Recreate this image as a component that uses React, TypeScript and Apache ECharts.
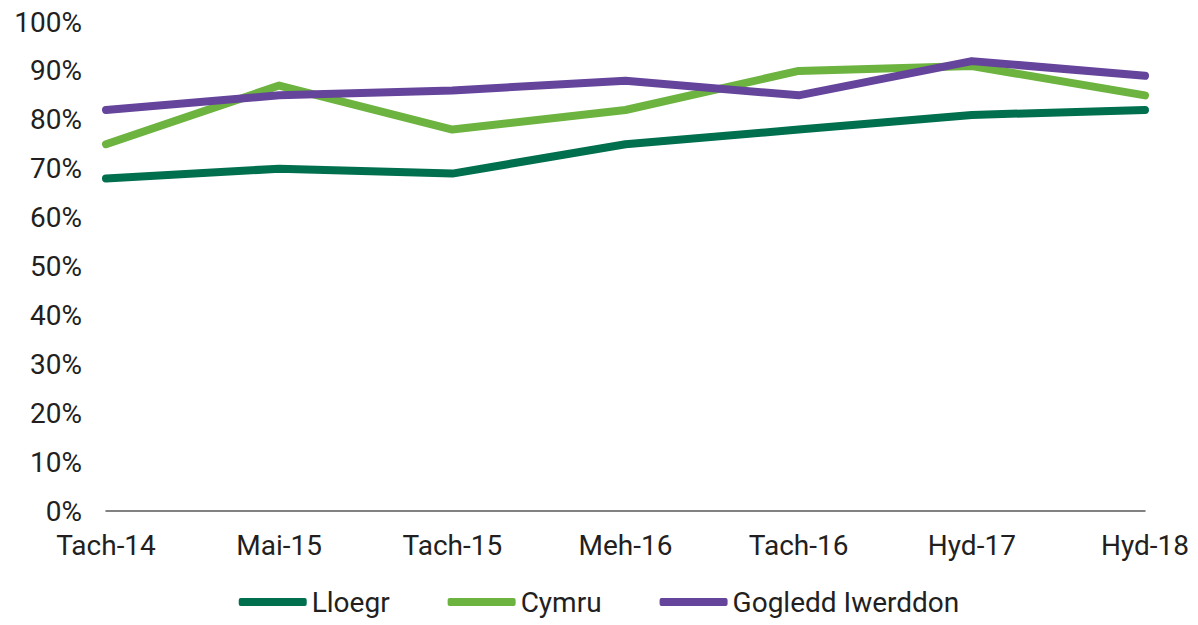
import React, { useEffect, useRef } from "react";
import * as echarts from "echarts";

const categories = ["Tach-14", "Mai-15", "Tach-15", "Meh-16", "Tach-16", "Hyd-17", "Hyd-18"];
const lloegr = [68, 70, 69, 75, 78, 81, 82];
const cymru = [75, 87, 78, 82, 90, 91, 85];
const gogleddIwerddon = [82, 85, 86, 88, 85, 92, 89];

const FONT = "Roboto";
const TEXT = "#231f20";

export default function App() {
  const ref = useRef<HTMLDivElement>(null);
  useEffect(() => {
    const chart = echarts.init(ref.current!, null, { renderer: "svg" });
    const mk = (name: string, data: number[], color: string) => ({
      name,
      type: "line",
      data,
      symbol: "none",
      lineStyle: { width: 8, color, cap: "round", join: "round" },
      itemStyle: { color },
    });
    chart.setOption({
      animation: false,
      grid: { left: 106, right: 53, top: 22, bottom: 114 },
      legend: {
        bottom: 4,
        left: "center",
        itemWidth: 68,
        itemHeight: 8,
        itemGap: 58,
        icon: "roundRect",
        textStyle: { fontFamily: FONT, fontSize: 28, color: TEXT },
        data: ["Lloegr", "Cymru", "Gogledd Iwerddon"],
      },
      xAxis: {
        type: "category",
        data: categories,
        boundaryGap: false,
        axisLine: { show: true, lineStyle: { color: "#595959", width: 1.5 } },
        axisTick: { show: false },
        axisLabel: { fontFamily: FONT, fontSize: 28, color: TEXT, margin: 20 },
      },
      yAxis: {
        type: "value",
        min: 0,
        max: 100,
        interval: 10,
        splitLine: { show: false },
        axisLine: { show: false },
        axisTick: { show: false },
        axisLabel: {
          fontFamily: FONT,
          fontSize: 28,
          color: TEXT,
          margin: 24,
          formatter: (v: number) => v + "%",
        },
      },
      series: [
        mk("Lloegr", lloegr, "#006f4e"),
        mk("Cymru", cymru, "#6db33f"),
        mk("Gogledd Iwerddon", gogleddIwerddon, "#65449b"),
      ],
    });
    return () => chart.dispose();
  }, []);
  return <div ref={ref} style={{ width: 1198, height: 625, position: "absolute", left: 0, top: 0 }} />;
}
